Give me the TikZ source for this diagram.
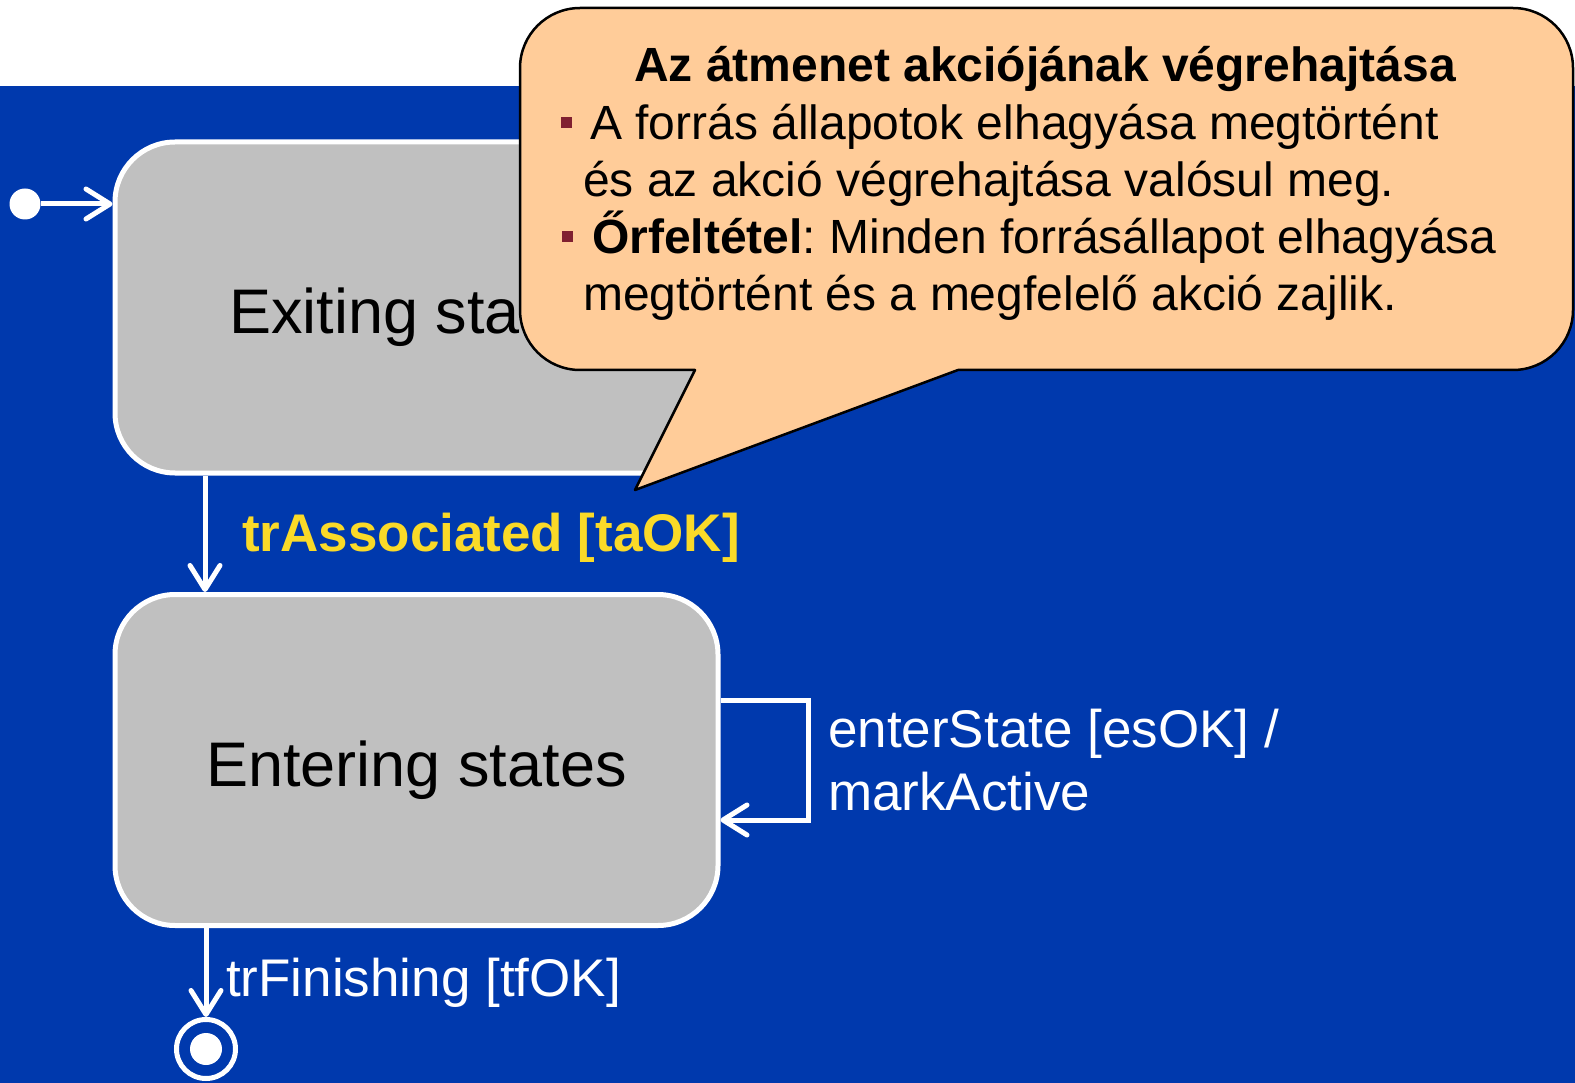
\documentclass[tikz,border=0pt]{standalone}
\usepackage{fontspec}
\setmainfont{Liberation Sans}
\usetikzlibrary{arrows.meta}
\definecolor{slideblue}{RGB}{0,57,173}
\definecolor{stategray}{RGB}{192,192,192}
\definecolor{notefill}{RGB}{255,204,153}
\definecolor{guardyellow}{RGB}{250,218,40}
\definecolor{bulletred}{RGB}{128,32,48}
\frenchspacing
\begin{document}
\begin{tikzpicture}[x=1pt,y=-1pt,
  state/.style={draw=white, line width=5pt, fill=stategray, rounded corners=60pt,
    minimum width=603pt, minimum height=331pt, inner sep=0pt,
    text height=52pt, text depth=0pt, font=\fontsize{63}{70}\selectfont},
  trans/.style={draw=white, line width=5pt, -{Straight Barb[length=24pt,width=30pt,round]}},
  lbl/.style={anchor=base west, inner sep=0pt, text=white, font=\fontsize{53}{60}\selectfont},
  note/.style={anchor=base west, inner sep=0pt, font=\fontsize{48}{56}\selectfont},
  bulletsq/.style={fill=bulletred, minimum size=11pt, inner sep=0pt}
]
\useasboundingbox (0,0) rectangle (1575,1083);
% slide background
\fill[white] (0,0) rectangle (1575,1083);
\fill[slideblue] (0,86) rectangle (1575,1083);

% states
\node[state] (exit) at (416.5,307.5) {Exiting states};
\node[state] (enter) at (416.5,760) {Entering states};

% initial pseudostate
\node[circle, fill=white, minimum size=31pt, inner sep=0pt] (init) at (25,204) {};
\draw[trans] (init) -- (init -| exit.west);

% exit -> enter
\coordinate (xa) at (205,0);
\draw[trans] (exit.south -| xa) -- (enter.north -| xa);
\node[lbl, text=guardyellow, font=\bfseries\fontsize{53}{60}\selectfont] (ta) at (242,551) {trAssociated [taOK]};

% self transition
\coordinate (s1) at (0,700);
\coordinate (s2) at (0,820);
\draw[trans] (enter.east |- s1) -- ++(88,0) |- (enter.east |- s2);
\node[lbl] (loopa) at (828,747) {enterState [esOK] /};
\node[lbl] (loopb) at (828,810) {markActive};

% final state
\node[circle, draw=white, line width=5pt, minimum size=59pt, inner sep=0pt] (fin) at (206,1049) {};
\fill[white] (fin.center) circle (16);
\draw[trans] (enter.south -| fin) -- (fin.north);
\node[lbl] (tf) at (226,996) {trFinishing [tfOK]};

% callout
\draw[fill=notefill, draw=black, line width=2.5pt, line join=round]
  (958,370) -- (1513,370) arc[start angle=90,end angle=0,radius=60]
  -- (1573,68) arc[start angle=0,end angle=-90,radius=60]
  -- (580,8) arc[start angle=-90,end angle=-180,radius=60]
  -- (520,310) arc[start angle=180,end angle=90,radius=60]
  -- (695,370) -- (635,490) -- cycle;
\node[note, anchor=base, font=\bfseries\fontsize{48}{56}\selectfont] (title) at (1045,82) {Az átmenet akciójának végrehajtása};
\node[bulletsq] (b1) at (566,123) {};
\node[note] (n1) at (590,140) {A forrás állapotok elhagyása megtörtént};
\node[note] (n2) at (583,197) {és az akció végrehajtása valósul meg.};
\node[bulletsq] (b2) at (567,237) {};
\node[note] (n3) at (592,254) {\textbf{Őrfeltétel}: Minden forrásállapot elhagyása};
\node[note] (n4) at (583,311) {megtörtént és a megfelelő akció zajlik.};
\end{tikzpicture}
\end{document}
